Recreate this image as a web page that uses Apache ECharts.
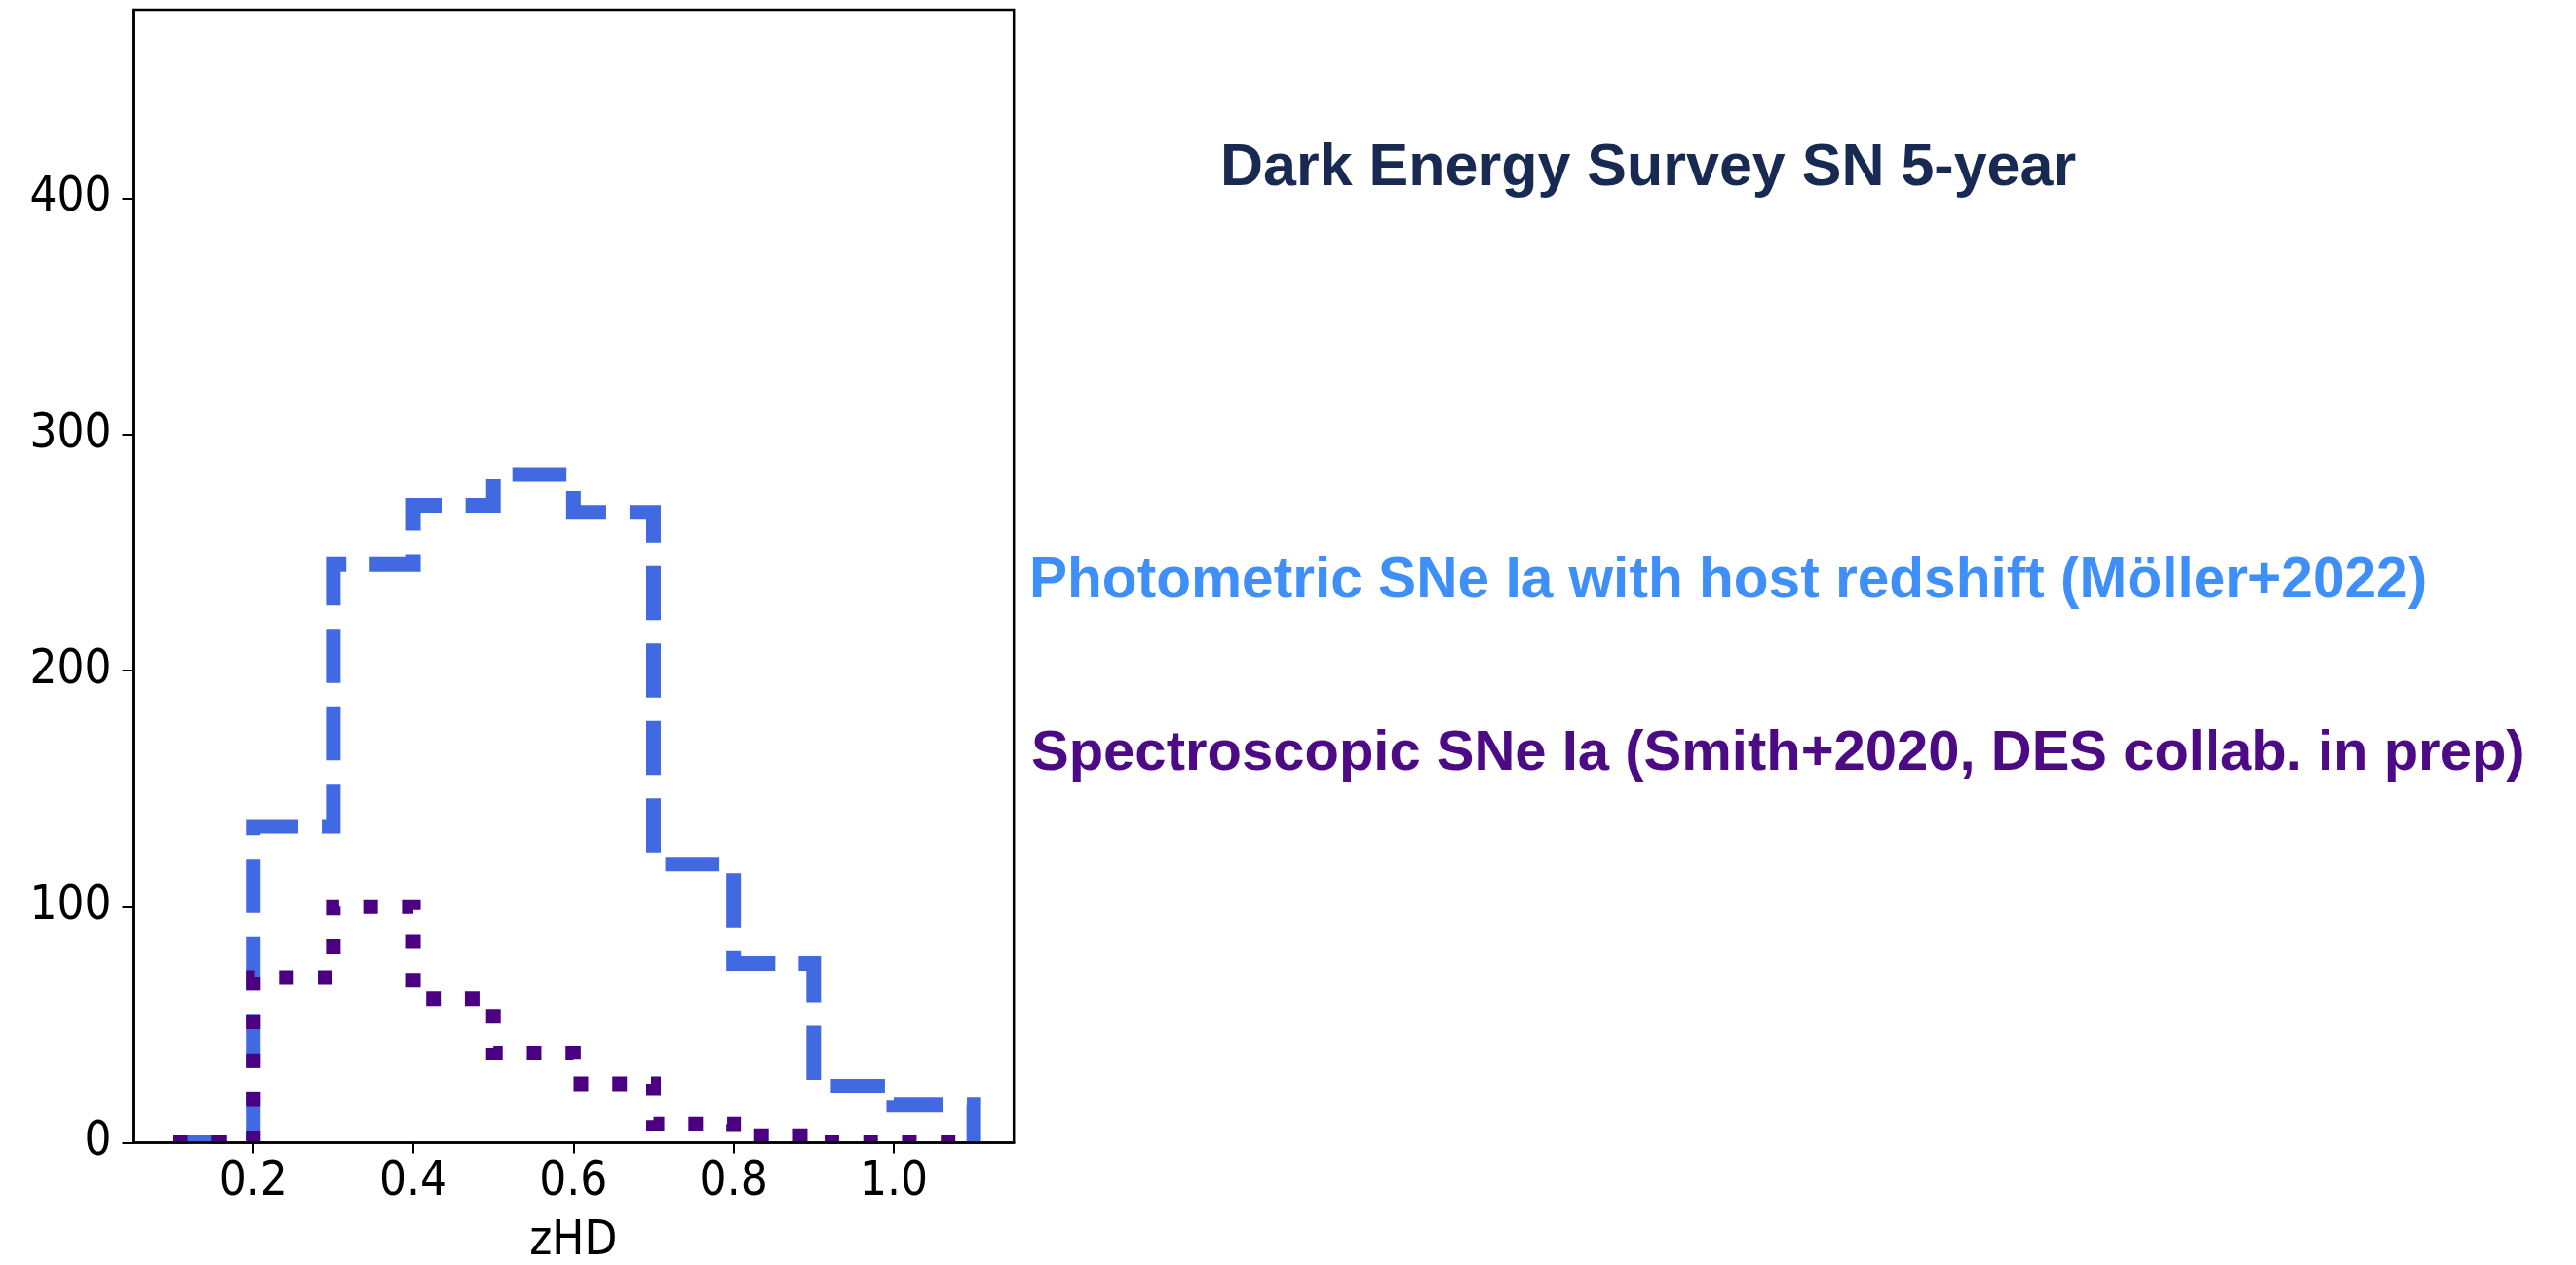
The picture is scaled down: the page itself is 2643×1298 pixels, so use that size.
<!DOCTYPE html>
<html>
<head>
<meta charset="utf-8">
<title>DES SN 5-year redshift distribution</title>
<script src="https://cdn.jsdelivr.net/npm/echarts@6/dist/echarts.min.js"></script>
<style>
  html, body { margin: 0; padding: 0; background: #ffffff; }
  #chart { width: 2643px; height: 1298px; }
</style>
</head>
<body>
<div id="chart"></div>
<script>
// Redshift bins (zHD) and histogram counts per bin
const binEdges = [0.1, 0.2, 0.3, 0.4, 0.5, 0.6, 0.7, 0.8, 0.9, 1.0, 1.1];
const photometricCounts = [0, 134, 245, 270, 283, 267, 118, 76, 24, 16];
const spectroscopicCounts = [0, 70, 100, 61, 38, 25, 8, 3, 0, 0];

const xTicks = [0.2, 0.4, 0.6, 0.8, 1.0];
const yTicks = [0, 100, 200, 300, 400];

const titleText = 'Dark Energy Survey SN 5-year';
const photometricLabel = 'Photometric SNe Ia with host redshift (Möller+2022)';
const spectroscopicLabel = 'Spectroscopic SNe Ia (Smith+2020, DES collab. in prep)';

// Unfilled step outline of a histogram, like histtype="step"
function stepOutline(edges, counts) {
  const pts = [[edges[0], 0]];
  for (let i = 0; i < counts.length; i++) {
    pts.push([edges[i], counts[i]]);
    pts.push([edges[i + 1], counts[i]]);
  }
  pts.push([edges[edges.length - 1], 0]);
  return pts;
}

const chart = echarts.init(document.getElementById('chart'), null, { renderer: 'canvas' });

const tickFont = { fontFamily: '"DejaVu Sans Condensed", "DejaVu Sans"', fontSize: 49, color: '#000000' };
const LW = 15;

chart.setOption({
  animation: false,
  backgroundColor: '#ffffff',
  grid: {
    left: 136.5, right: 1602.8, top: 10, bottom: 125.5,
    outerBoundsMode: 'none', containLabel: false,
    show: true, borderColor: '#000000', borderWidth: 2.5, backgroundColor: 'transparent'
  },
  xAxis: {
    type: 'value', min: 0.05, max: 1.15, z: 10,
    name: 'zHD', nameLocation: 'middle', nameGap: 77,
    nameTextStyle: tickFont,
    axisLine: { show: true, onZero: false, lineStyle: { color: '#000000', width: 2.5 } },
    axisTick: { show: true, length: 11, customValues: xTicks, lineStyle: { color: '#000000', width: 2 } },
    axisLabel: Object.assign({ margin: 16, customValues: xTicks, formatter: v => v.toFixed(1) }, tickFont),
    splitLine: { show: false }
  },
  yAxis: {
    type: 'value', min: 0, max: 480, z: 10,
    axisLine: { show: true, onZero: false, lineStyle: { color: '#000000', width: 2.5 } },
    axisTick: { show: true, length: 11, customValues: yTicks, lineStyle: { color: '#000000', width: 2 } },
    axisLabel: Object.assign({ margin: 22, customValues: yTicks }, tickFont),
    splitLine: { show: false }
  },
  graphic: {
    elements: [
      // keep the outlines inside the axes frame below the zero line
      { type: 'rect', z: 5, silent: true,
        shape: { x: 150, y: 1174, width: 880, height: 10 },
        style: { fill: '#ffffff' } },
      { type: 'text', x: 1252, y: 173, silent: true,
        style: { text: titleText, fill: '#182a52', font: 'bold 61px "Liberation Sans", Arial, sans-serif',
                 align: 'left', verticalAlign: 'middle' } },
      { type: 'text', x: 1056, y: 597, silent: true,
        style: { text: photometricLabel, fill: '#3f8ff8', font: 'bold 58.6px "Liberation Sans", Arial, sans-serif',
                 align: 'left', verticalAlign: 'middle' } },
      { type: 'text', x: 1058, y: 774, silent: true,
        style: { text: spectroscopicLabel, fill: '#4c0b84', font: 'bold 58px "Liberation Sans", Arial, sans-serif',
                 align: 'left', verticalAlign: 'middle' } }
    ]
  },
  series: [
    {
      name: 'Photometric', type: 'line', showSymbol: false, silent: true,
      data: stepOutline(binEdges, photometricCounts),
      lineStyle: { color: '#4169e1', width: LW, type: [3.7 * LW, 1.6 * LW], cap: 'butt', join: 'miter' }
    },
    {
      name: 'Spectroscopic', type: 'line', showSymbol: false, silent: true,
      data: stepOutline(binEdges, spectroscopicCounts),
      lineStyle: { color: '#4b0082', width: LW, type: [1 * LW, 1.65 * LW], cap: 'butt', join: 'miter' }
    }
  ]
});
</script>
</body>
</html>
